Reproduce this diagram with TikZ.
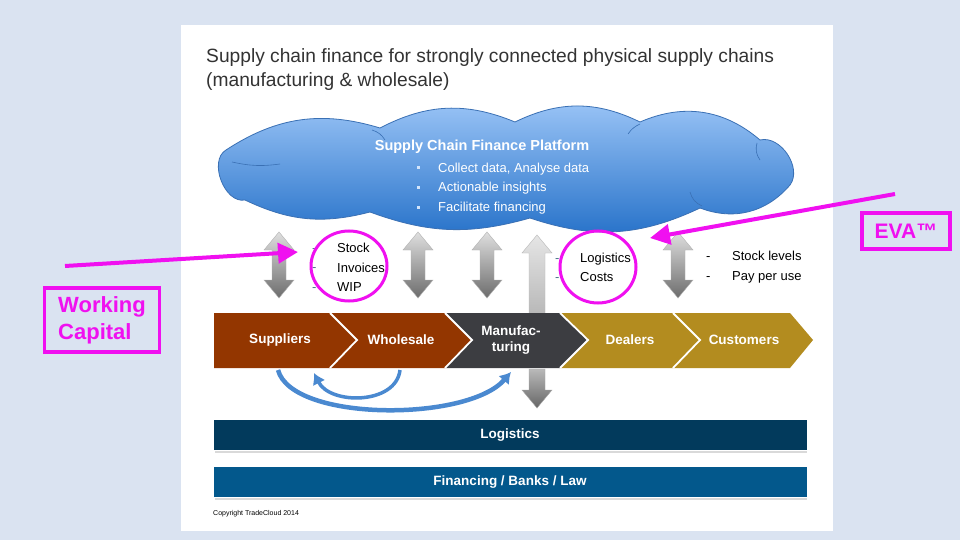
\documentclass[tikz,border=0pt]{standalone}
\usepackage{fontspec}
\setmainfont{Liberation Sans}
\usetikzlibrary{arrows.meta}
\definecolor{bgc}{HTML}{DAE3F1}
\definecolor{brownc}{HTML}{933600}
\definecolor{darkc}{HTML}{3C3D41}
\definecolor{goldc}{HTML}{B38C1F}
\definecolor{navyc}{HTML}{023A5C}
\definecolor{bluec}{HTML}{03588C}
\definecolor{cloudtop}{HTML}{9AC4F6}
\definecolor{cloudbot}{HTML}{2470C8}
\definecolor{cloudline}{HTML}{3A70B4}
\definecolor{magc}{HTML}{F010F0}
\definecolor{arcc}{HTML}{4A89D0}
\newcommand\fsz[2]{\fontsize{#1}{#2}\selectfont}
\newcommand\dblarr[1]{%
  \shade[top color=gray!25, bottom color=gray!85!black, draw=gray!60, line width=0.4pt]
  ({#1-15},250) -- (#1,232) -- ({#1+15},250) -- ({#1+7},250) -- ({#1+7},280) -- ({#1+15},280)
  -- (#1,298) -- ({#1-15},280) -- ({#1-7},280) -- ({#1-7},250) -- cycle;}
\tikzset{
  txt/.style={inner sep=0pt, anchor=base west, font=\fsz{13}{15}},
  chevlbl/.style={inner sep=0pt, text=white, align=center, font=\bfseries\fsz{13.5}{16}},
  barlbl/.style={inner sep=0pt, text=white, font=\bfseries\fsz{13.5}{16}},
  cloudtxt/.style={inner sep=0pt, anchor=base west, text=white, font=\fsz{13}{15}},
  sep/.style={draw=white, line width=1.8pt},
  magline/.style={draw=magc, line width=4pt, -{Triangle[length=20pt,width=20pt]}},
  magring/.style={draw=magc, line width=3pt},
  magbox/.style={draw=magc, line width=3.5pt, text=magc, inner sep=4pt, align=left, font=\bfseries\fsz{22}{27}},
  curv/.style={draw=arcc, line width=4.5pt, -{Latex[length=11pt,width=14pt]}},
}
\begin{document}
\begin{tikzpicture}[x=1pt,y=-1pt]
\useasboundingbox (0,0) rectangle (960,540);
\fill[bgc] (0,0) rectangle (960,540);
\fill[white] (181,25) rectangle (833,531);

% title
\node[inner sep=0pt, anchor=north west, align=left, font=\fsz{19.2}{24}, text=black!80] (title) at (206,48)
  {Supply chain finance for strongly connected physical supply chains\\(manufacturing \& wholesale)};

% cloud
\path[top color=cloudtop, bottom color=cloudbot, draw=cloudline, line width=0.8pt]
  (245,200) to[bend left=80] (226,150)
  to[bend left=25] (380,128)
  to[bend left=25] (515,122)
  to[bend left=26] (640,122)
  to[bend left=32] (760,140)
  to[bend left=70] (790,185)
  to[bend left=35] (700,208)
  to[bend left=22] (530,218)
  to[bend left=18] (370,212)
  to[bend left=20] cycle;
\draw[cloudline, line width=0.6pt] (372,130) to[bend left=20] (385,140);
\draw[cloudline, line width=0.6pt] (640,124) to[bend right=15] (628,134);
\draw[cloudline, line width=0.6pt] (757,143) to[bend right=25] (760,160);
\draw[cloudline, line width=0.6pt] (702,206) to[bend left=25] (690,192);
\draw[cloudline, line width=0.6pt] (232,162) to[bend right=10] (280,164);
\node[inner sep=0pt, text=white, font=\bfseries\fsz{14.5}{17}] (cloudtitle) at (482,147) {Supply Chain Finance Platform};
\node[cloudtxt] (b1) at (438,172) {Collect data, Analyse data};
\node[cloudtxt] (b2) at (438,191) {Actionable insights};
\node[cloudtxt] (b3) at (438,211) {Facilitate financing};
\foreach \yy in {168,187,207} \fill[white!55!cloudtop] (417,\yy-1.5) rectangle (420,\yy+1.5);

% double arrows
\dblarr{279}
\dblarr{418}
\dblarr{487}
\dblarr{678}
% up arrow into manufacturing
\shade[top color=gray!20, bottom color=gray!55, draw=gray!55, line width=0.4pt]
  (522,253) -- (537,235) -- (552,253) -- (545,253) -- (545,313) -- (529,313) -- (529,253) -- cycle;

% side texts
\foreach \yy in {252,271,291}
  \node[txt, text=navyc!70] at (312,\yy) {-};
\node[txt] (stock) at (337,252) {Stock};
\node[txt] (inv) at (337,272) {Invoices};
\node[txt] (wip) at (337,291) {WIP};
\node[txt, text=navyc!70] at (555,262) {-};
\node[txt, text=navyc!70] at (555,281) {-};
\node[txt] (logi) at (580,262) {Logistics};
\node[txt] (costs) at (580,281) {Costs};
\node[txt] at (706,260) {-};
\node[txt] at (706,280) {-};
\node[txt] (stlev) at (732,260) {Stock levels};
\node[txt] (ppu) at (732,280) {Pay per use};

% chevron band
\fill[brownc] (214,313) -- (330,313) -- (357,340) -- (330,368) -- (214,368) -- cycle;
\fill[brownc] (330,313) -- (445,313) -- (472,340) -- (445,368) -- (330,368) -- (357,340) -- cycle;
\fill[darkc] (445,313) -- (560,313) -- (588,340) -- (560,368) -- (445,368) -- (472,340) -- cycle;
\fill[goldc] (560,313) -- (673,313) -- (700,340) -- (673,368) -- (560,368) -- (588,340) -- cycle;
\fill[goldc] (673,313) -- (790,313) -- (813,340) -- (790,368) -- (673,368) -- (700,340) -- cycle;
\draw[sep] (330,313) -- (357,340) -- (330,368);
\draw[sep] (445,313) -- (472,340) -- (445,368);
\draw[sep] (560,313) -- (588,340) -- (560,368);
\draw[sep] (673,313) -- (700,340) -- (673,368);
\node[chevlbl] (sup) at (280,340) {Suppliers};
\node[chevlbl] (who) at (401,340) {Wholesale};
\node[chevlbl] (man) at (511,340) {Manufac-\\turing};
\node[chevlbl] (dea) at (630,340) {Dealers};
\node[chevlbl] (cus) at (744,340) {Customers};

% down arrow
\shade[top color=gray!55, bottom color=gray!80!black, draw=gray!70, line width=0.4pt]
  (529,369) -- (545,369) -- (545,390) -- (552,390) -- (537,408) -- (522,390) -- (529,390) -- cycle;

% curved arrows
\coordinate (c1s) at (278,370);
\coordinate (c1e) at (511,372);
\coordinate (c2s) at (400,370);
\coordinate (c2e) at (314,373);
\draw[curv] (c1s) .. controls (292,422) and (468,422) .. (c1e);
\draw[curv, line width=3.5pt] (c2s) .. controls (396,405) and (330,405) .. (c2e);

% bars
\fill[gray!30] (215,451) rectangle (807,453);
\fill[navyc] (214,420) rectangle (807,450);
\node[barlbl] (logbar) at (510,435) {Logistics};
\fill[gray!30] (215,498) rectangle (807,500);
\fill[bluec] (214,467) rectangle (807,497);
\node[barlbl] (finbar) at (510,482) {Financing / Banks / Law};
\node[inner sep=0pt, anchor=west, font=\fsz{7}{8}] (copy) at (213,514) {Copyright TradeCloud 2014};

% magenta annotations
\draw[magring] (349,266) ellipse (38 and 35);
\draw[magring] (598,267) ellipse (38 and 36);
\node[magbox, minimum width=115pt, minimum height=64pt] (wc) at (102,320) {Working\\Capital};
\node[magbox, minimum width=88pt, minimum height=36pt, font=\bfseries\fsz{21}{24}] (eva) at (906,231) {EVA™};
\coordinate (wcs) at (65,266);
\coordinate (wce) at (298,252);
\coordinate (evs) at (895,194);
\coordinate (eve) at (650,238);
\draw[magline] (wcs) -- (wce);
\draw[magline] (evs) -- (eve);
\end{tikzpicture}
\end{document}
